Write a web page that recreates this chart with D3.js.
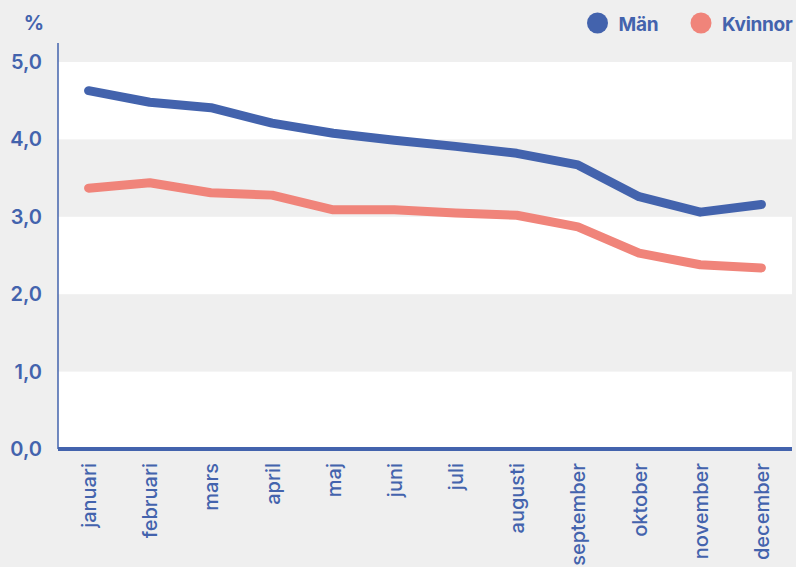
<html>
<script src='https://d3js.org/d3.v7.min.js'></script>
<style>
  body {margin: 0; background: #efefef;}
  text {font-family: Inter, 'Open Sans', sans-serif; fill: #4363ad;}
</style>
<body onload='init()'>
<svg width=796 height=567></svg>
<script>
var months = ["januari","februari","mars","april","maj","juni","juli","augusti","september","oktober","november","december"];
var man = [4.63, 4.48, 4.41, 4.21, 4.08, 3.99, 3.91, 3.82, 3.67, 3.26, 3.06, 3.16];
var kvinnor = [3.37, 3.44, 3.31, 3.28, 3.09, 3.09, 3.05, 3.02, 2.87, 2.53, 2.38, 2.34];
var yTicks = [0, 1, 2, 3, 4, 5];
var seriesNames = ["Män", "Kvinnor"];
var colors = ["#4363ad", "#f0847a"];

function init() {
  var left = 58, right = 792, top = 62, bottom = 449;
  var svg = d3.select("svg");

  var x = d3.scalePoint(months, [left, right]).padding(0.5);
  var y = d3.scaleLinear([0, 5], [bottom, top]);

  // white bands
  svg.selectAll(".band")
    .data([[4, 5], [2, 3], [0, 1]])
    .enter().append("rect")
    .attr("x", left)
    .attr("width", right - left)
    .attr("y", d => y(d[1]))
    .attr("height", d => y(d[0]) - y(d[1]))
    .attr("fill", "#fff");

  // y axis
  var yAxis = d3.axisLeft(y).tickValues(yTicks).tickSize(0).tickPadding(16)
    .tickFormat(d => d3.format(".1f")(d).replace(".", ","));
  var gy = svg.append("g").attr("transform", "translate(" + left + ",0)").call(yAxis);
  gy.select(".domain").remove();
  gy.selectAll("text").attr("font-size", 20).attr("font-weight", 600)
    .attr("font-family", "Inter, sans-serif").attr("fill", "#4363ad");

  svg.append("line").attr("x1", left).attr("x2", left).attr("y1", 43).attr("y2", bottom)
    .attr("stroke", "#4363ad").attr("stroke-width", 1.5);

  svg.append("text").attr("x", 34).attr("y", 30).attr("text-anchor", "middle")
    .attr("font-size", 20).attr("font-weight", 700).text("%");

  // x axis
  var xAxis = d3.axisBottom(x).tickSize(0).tickPadding(0);
  var gx = svg.append("g").attr("transform", "translate(0," + bottom + ")").call(xAxis);
  gx.select(".domain").remove();
  gx.selectAll("text")
    .attr("transform", "rotate(-90)")
    .attr("x", -14).attr("y", 0).attr("dy", "0.35em")
    .attr("text-anchor", "end")
    .attr("font-size", 20).attr("font-weight", 500)
    .attr("font-family", "Inter, sans-serif").attr("fill", "#4363ad");

  svg.append("line").attr("x1", left).attr("x2", right).attr("y1", bottom).attr("y2", bottom)
    .attr("stroke", "#4363ad").attr("stroke-width", 4);

  // lines
  var line = d3.line().x((d, i) => x(months[i])).y(d => y(d));
  [man, kvinnor].forEach(function (s, i) {
    svg.append("path").attr("d", line(s))
      .attr("fill", "none").attr("stroke", colors[i])
      .attr("stroke-width", 9).attr("stroke-linecap", "round").attr("stroke-linejoin", "round");
  });

  // legend
  var legX = [597.5, 701];
  seriesNames.forEach(function (n, i) {
    svg.append("circle").attr("cx", legX[i]).attr("cy", 23).attr("r", 10.5).attr("fill", colors[i]);
    svg.append("text").attr("x", legX[i] + 21).attr("y", 31)
      .attr("font-size", 19).attr("font-weight", 700).attr("letter-spacing", -0.3).text(n);
  });
}
</script>
</body>
</html>
